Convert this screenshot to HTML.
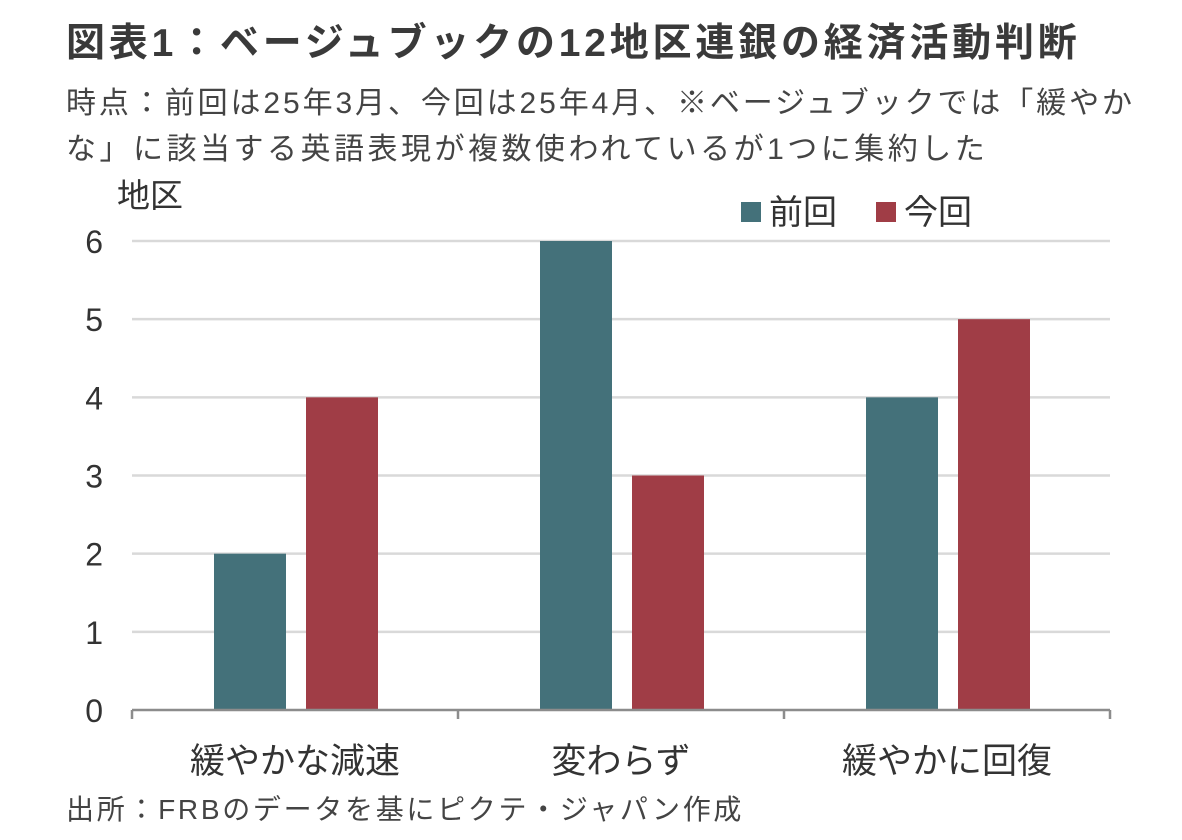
<!DOCTYPE html>
<html><head><meta charset="utf-8">
<style>
body{margin:0;background:#fff;width:1182px;height:840px;overflow:hidden;font-family:"Liberation Sans","Noto Sans CJK JP",sans-serif;color:#333}
.t{position:absolute;white-space:nowrap}
</style></head><body>
<div class="t" style="left:66px;top:12px;font-size:39px;font-weight:bold;color:#3a3a3a;letter-spacing:3.8px">図表1：ベージュブックの12地区連銀の経済活動判断</div>
<div class="t" style="left:66px;top:78px;font-size:30px;color:#444;letter-spacing:2.9px">時点：前回は25年3月、今回は25年4月、※ベージュブックでは「緩やか</div>
<div class="t" style="left:66px;top:124px;font-size:30px;color:#444;letter-spacing:3.5px">な」に該当する英語表現が複数使われているが1つに集約した</div>
<div class="t" style="left:66px;top:788px;font-size:28px;color:#444;letter-spacing:2.7px">出所：FRBのデータを基にピクテ・ジャパン作成</div>
<svg id="chart" width="1182" height="840" style="position:absolute;left:0;top:0"></svg>
<script>
const categories=["緩やかな減速","変わらず","緩やかに回復"];
const prevValues=[2,6,4];
const currValues=[4,3,5];
const yTicks=[0,1,2,3,4,5,6];
const seriesNames=["前回","今回"];
const colors=["#44717a","#a03d46"];
const svg=document.getElementById('chart');
const NS="http://www.w3.org/2000/svg";
const x0=132,x1=1110,y0=710,y6=241;
const yS=v=>y0-(v/6)*(y0-y6);
const bw=(x1-x0)/categories.length;
const xC=i=>x0+bw*(i+0.5);
function mk(tag,attrs){const e=document.createElementNS(NS,tag);for(const k in attrs)e.setAttribute(k,attrs[k]);svg.appendChild(e);return e;}
yTicks.forEach(v=>{
  if(v>0){const g=mk('line',{x1:x0,x2:x1,y1:yS(v),y2:yS(v),stroke:'#d9d9d9','stroke-width':2.5});
  
  }
  const t=mk('text',{x:103,y:yS(v)+12,'text-anchor':'end','font-size':32,fill:'#333'});t.textContent=v;
  
  
});
[prevValues,currValues].forEach((vals,s)=>{
  vals.forEach((v,i)=>{
    const cx=xC(i)+(s===0?-45:47);
    const r=mk('rect',{x:cx-36,y:yS(v),width:72,height:y0-yS(v),fill:colors[s]});
    
    
  });
});
const ax=mk('line',{x1:x0,x2:x1,y1:y0,y2:y0,stroke:'#8c8c8c','stroke-width':2.5});


for(let i=0;i<=categories.length;i++){
  const tk=mk('line',{x1:x0+bw*i,x2:x0+bw*i,y1:y0,y2:y0+9,stroke:'#8c8c8c','stroke-width':2.5});
  
  
}
categories.forEach((c,i)=>{
  const t=mk('text',{x:xC(i),y:773,'text-anchor':'middle','font-size':35,fill:'#333'});t.textContent=c;
  
  
});
const yu=mk('text',{x:117,y:207,'font-size':33,fill:'#333'});yu.textContent="地区";


seriesNames.forEach((n,s)=>{
  const lx=s===0?741:876;
  const sw=mk('rect',{x:lx,y:202,width:20,height:20,fill:colors[s]});
  
  
  const t=mk('text',{x:lx+28,y:224,'font-size':34,fill:'#333'});t.textContent=n;
  
  
});
</script>
</body></html>
